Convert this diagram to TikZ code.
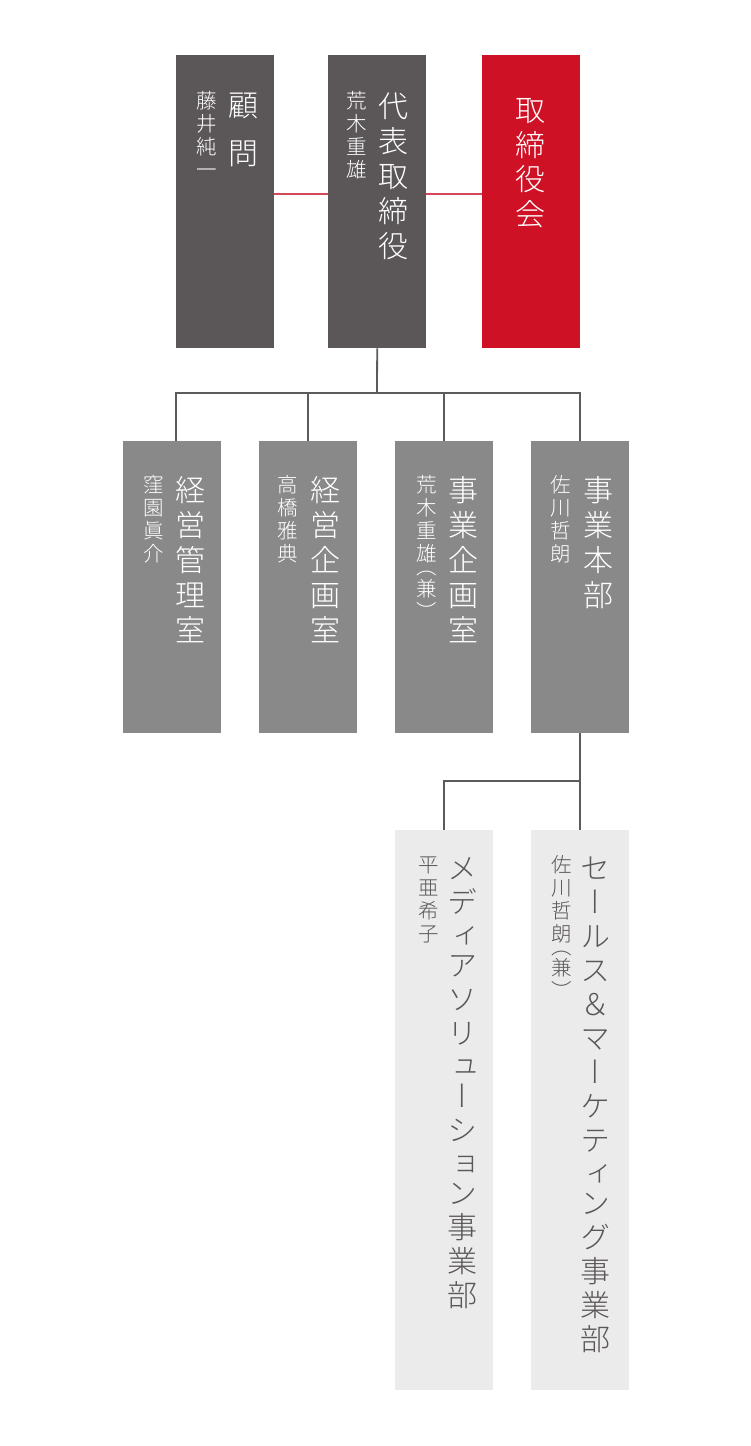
\documentclass[tikz,border=0pt]{standalone}
\usepackage{fontspec}
\newfontfamily\jp[RawFeature=+vert]{Noto Sans CJK JP Light}
\definecolor{darkbox}{RGB}{91,87,88}
\definecolor{redbox}{RGB}{207,17,38}
\definecolor{midbox}{RGB}{137,137,137}
\definecolor{lightbox}{RGB}{235,235,235}
\definecolor{redline}{RGB}{212,72,88}
\definecolor{lineg}{RGB}{92,90,90}
\definecolor{textdark}{RGB}{91,87,88}
\newlength\vpitch
\makeatletter
\let\vsep@\relax
\newcommand\vstack[2]{\vbox{\offinterlineskip\setlength\vpitch{#1}\let\vsep@\relax\vs@loop#2\relax}}
\def\vs@loop#1{\ifx\relax#1\else\vs@cell{#1}\expandafter\vs@loop\fi}
\def\vs@cell#1{%
  \vsep@
  \setbox0=\hbox to 1em{\hss#1\hss}%
  \ht0=0.88em \dp0=0.12em
  \edef\vsep@{\noexpand\kern\the\dimexpr\vpitch-1em\relax}%
  \if#1ィ\edef\vsep@{\noexpand\kern\the\dimexpr\vpitch-1.17em\relax}\fi
  \if#1ュ\edef\vsep@{\noexpand\kern\the\dimexpr\vpitch-1.17em\relax}\fi
  \if#1ョ\edef\vsep@{\noexpand\kern\the\dimexpr\vpitch-1.17em\relax}\fi
  \if#1（\ht0=0.38em \edef\vsep@{\noexpand\kern\the\dimexpr(\vpitch-1em)/2\relax}\fi
  \if#1）\dp0=-0.38em \fi
  \box0 }
\makeatother
\begin{document}
\begin{tikzpicture}[x=1pt,y=-1pt,
  box/.style={inner sep=0pt, minimum width=98pt, anchor=north west, draw=none},
  title/.style={inner sep=0pt, anchor=north, text=white, font=\jp\fontsize{30pt}{35pt}\selectfont},
  pname/.style={inner sep=0pt, anchor=north, text=white, font=\jp\fontsize{20.5pt}{23pt}\selectfont},
  darktext/.style={text=textdark},
  conn/.style={draw=lineg, line width=1.8pt},
  redconn/.style={draw=redline, line width=1.6pt}]
\fill[white] (0,0) rectangle (750,1446);
\useasboundingbox (0,0) rectangle (750,1446);
% top row
\node[box, fill=darkbox, minimum height=293pt] (komon) at (176,55) {};
\node[box, fill=darkbox, minimum height=293pt] (daihyo) at (328,55) {};
\node[box, fill=redbox, minimum height=293pt] (tori) at (482,55) {};
\node[title] (t-komon) at (243,90) {\vstack{47.6pt}{顧問}};
\node[pname] (n-komon) at (207,90.5) {\vstack{23pt}{藤井純一}};
\node[title] (t-daihyo) at (393,91) {\vstack{35pt}{代表取締役}};
\node[pname] (n-daihyo) at (357,90.5) {\vstack{23pt}{荒木重雄}};
\node[title] (t-tori) at (530,95) {\vstack{34.5pt}{取締役会}};
% second row
\node[box, fill=midbox, minimum height=292pt] (kanri) at (123,441) {};
\node[box, fill=midbox, minimum height=292pt] (kikaku) at (259,441) {};
\node[box, fill=midbox, minimum height=292pt] (jkikaku) at (395,441) {};
\node[box, fill=midbox, minimum height=292pt] (honbu) at (531,441) {};
\node[title] (t-kanri) at (190,475) {\vstack{35pt}{経営管理室}};
\node[pname] (n-kanri) at (153.5,474.5) {\vstack{23pt}{窪園眞介}};
\node[title] (t-kikaku) at (325,475) {\vstack{35pt}{経営企画室}};
\node[pname] (n-kikaku) at (288,474.5) {\vstack{23pt}{高橋雅典}};
\node[title] (t-jkikaku) at (463,475) {\vstack{35pt}{事業企画室}};
\node[pname] (n-jkikaku) at (427,474.5) {\vstack{23pt}{荒木重雄（兼）}};
\node[title] (t-honbu) at (598,475) {\vstack{35pt}{事業本部}};
\node[pname] (n-honbu) at (561,474.5) {\vstack{23pt}{佐川哲朗}};
% third row
\node[box, fill=lightbox, minimum height=560pt] (media) at (395,830) {};
\node[box, fill=lightbox, minimum height=560pt] (sales) at (531,830) {};
\node[title, darktext] (t-media) at (462,853) {\vstack{34pt}{メディアソリューション事業部}};
\node[pname, darktext] (n-media) at (428.5,854) {\vstack{23pt}{平亜希子}};
\node[title, darktext] (t-sales) at (595,853) {\vstack{34pt}{セールス＆マーケティング事業部}};
\node[pname, darktext] (n-sales) at (562,854) {\vstack{23pt}{佐川哲朗（兼）}};
% connectors
\draw[redconn] ([yshift=7.5pt]komon.east) -- ([yshift=7.5pt]daihyo.west);
\draw[redconn] ([yshift=7.5pt]daihyo.east) -- ([yshift=7.5pt]tori.west);
\coordinate (bar) at (377,393);
\draw[conn] (daihyo.south) -- (bar);
\draw[conn] ([xshift=4pt]kanri.north) |- (bar) -| (honbu.north);
\draw[conn] (kikaku.north) -- (kikaku.north |- bar);
\draw[conn] (jkikaku.north) -- (jkikaku.north |- bar);
\coordinate (bar2) at (580,781);
\draw[conn] (honbu.south) -- (sales.north);
\draw[conn] (media.north) |- (bar2);
\end{tikzpicture}
\end{document}
